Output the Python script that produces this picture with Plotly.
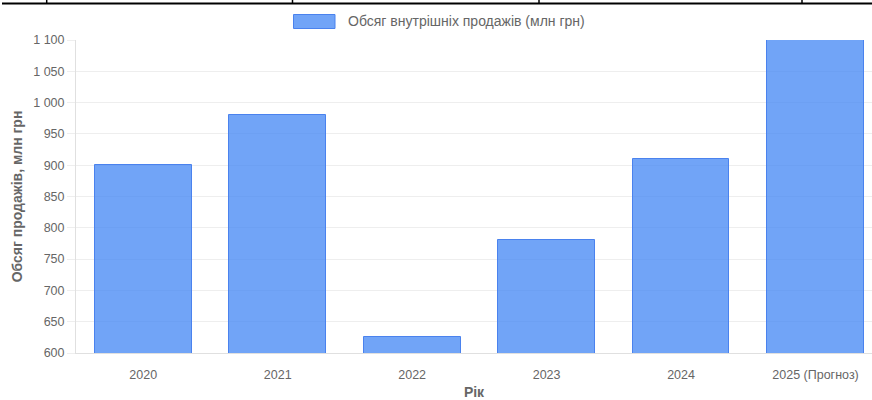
import plotly.graph_objects as go

years = ["2020", "2021", "2022", "2023", "2024", "2025 (Прогноз)"]
sales = [900, 980, 625, 780, 910, 1100]
series_name = "Обсяг внутрішніх продажів (млн грн)"
y_title = "Обсяг продажів, млн грн"
x_title = "Рік"

W, H = 872, 400
ML, MR, MT, MB = 76, 0, 40, 47
PW, PH = W - ML - MR, H - MT - MB


def px(x):
    return (x - ML) / PW


def py(y):
    return (H - MB - y) / PH


fill = "rgba(66,133,244,0.75)"
border = "#4a82ee"
txt = "#666666"
font_family = "Liberation Sans, Arial, sans-serif"

fig = go.Figure()
fig.add_trace(go.Bar(
    x=years, y=sales, name=series_name,
    marker=dict(color=fill, line=dict(color=border, width=1)),
    width=0.72, showlegend=False,
))

shapes = []
# cropped table border at the top
shapes.append(dict(type="line", xref="paper", yref="paper",
                   x0=px(2), x1=px(872), y0=py(3.5), y1=py(3.5),
                   line=dict(color="black", width=2)))
for vx in [46.7, 292.5, 539, 802]:
    shapes.append(dict(type="line", xref="paper", yref="paper",
                       x0=px(vx), x1=px(vx), y0=py(0), y1=py(3.5),
                       line=dict(color="black", width=1.5)))
# legend swatch
shapes.append(dict(type="rect", xref="paper", yref="paper",
                   x0=px(293.5), x1=px(335), y0=py(14.5), y1=py(28.5),
                   fillcolor=fill, line=dict(color=border, width=1)))

annotations = [
    dict(text=series_name, xref="paper", yref="paper", x=px(346), y=py(21.5),
         xanchor="left", yanchor="middle", showarrow=False,
         font=dict(size=14, color=txt, family=font_family)),
]

fig.update_layout(
    width=W, height=H, autosize=False,
    margin=dict(l=ML, r=MR, t=MT, b=MB, pad=0),
    paper_bgcolor="white", plot_bgcolor="white",
    font=dict(family=font_family, size=12, color=txt),
    separators=", ",
    shapes=shapes, annotations=annotations,
    bargap=0,
    xaxis=dict(
        type="category", range=[-0.5, 5.42],
        showgrid=False, showline=True, linecolor="#e0e0e0", linewidth=1,
        ticks="", ticklabelstandoff=10,
        tickfont=dict(size=12.5, color=txt),
        title=dict(text="<b>" + x_title + "</b>", font=dict(size=14, color=txt), standoff=7),
        automargin=False,
    ),
    yaxis=dict(
        range=[600, 1100], dtick=50, tick0=600,
        showgrid=True, gridcolor="#eeeeee", gridwidth=1,
        showline=True, linecolor="#e0e0e0", linewidth=1,
        zeroline=False,
        ticks="outside", ticklen=8, tickcolor="#eeeeee",
        separatethousands=True,
        tickfont=dict(size=12.5, color=txt),
        title=dict(text="<b>" + y_title + "</b>", font=dict(size=14, color=txt), standoff=7),
        automargin=False,
    ),
)

fig.write_html("out.html")
